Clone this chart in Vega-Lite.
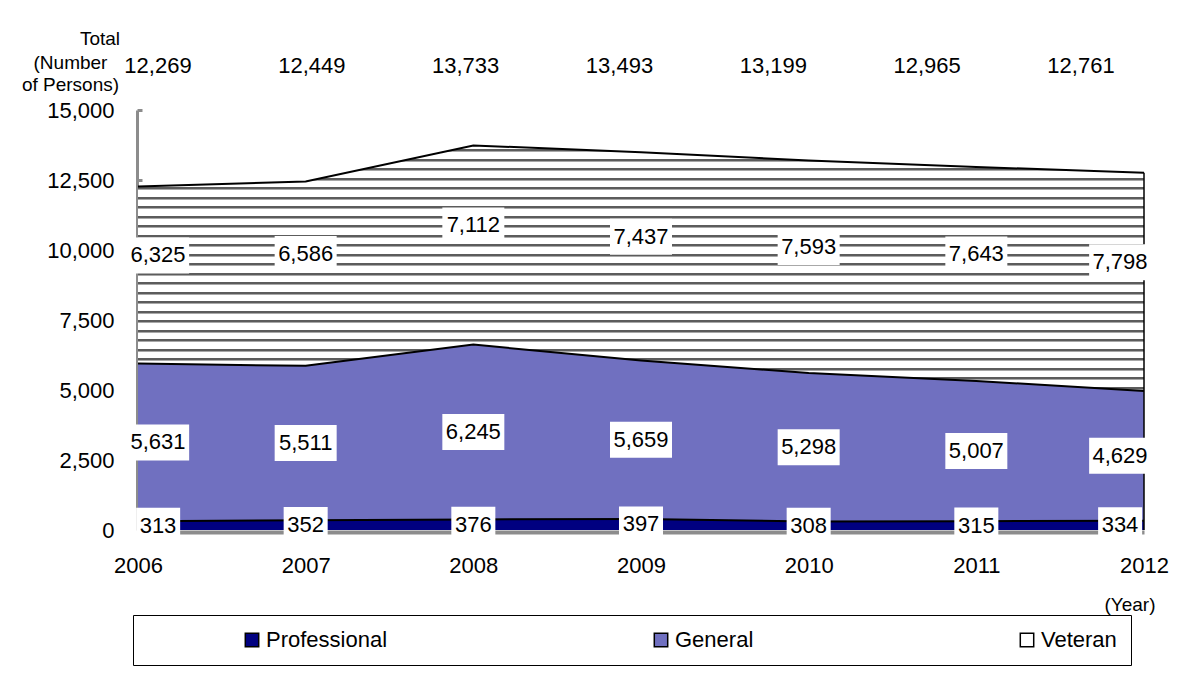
{
  "$schema": "https://vega.github.io/schema/vega-lite/v6.json",
  "width": 1006,
  "height": 420,
  "autosize": {"type": "none"},
  "padding": {"left": 138, "top": 110, "right": 35, "bottom": 150},
  "background": "white",
  "config": {"font": "Liberation Sans", "view": {"stroke": null}},
  "title": {"text": "Total", "anchor": "start", "frame": "group", "align": "center", "baseline": "middle", "dx": -38, "offset": -5, "fontSize": 19, "fontWeight": "normal", "color": "black", "font": "Liberation Sans"},
  "data": {"values": [
    {"year": 2006, "series": "Professional", "value": 313},
    {"year": 2006, "series": "General", "value": 5631},
    {"year": 2006, "series": "Veteran", "value": 6325},
    {"year": 2007, "series": "Professional", "value": 352},
    {"year": 2007, "series": "General", "value": 5511},
    {"year": 2007, "series": "Veteran", "value": 6586},
    {"year": 2008, "series": "Professional", "value": 376},
    {"year": 2008, "series": "General", "value": 6245},
    {"year": 2008, "series": "Veteran", "value": 7112},
    {"year": 2009, "series": "Professional", "value": 397},
    {"year": 2009, "series": "General", "value": 5659},
    {"year": 2009, "series": "Veteran", "value": 7437},
    {"year": 2010, "series": "Professional", "value": 308},
    {"year": 2010, "series": "General", "value": 5298},
    {"year": 2010, "series": "Veteran", "value": 7593},
    {"year": 2011, "series": "Professional", "value": 315},
    {"year": 2011, "series": "General", "value": 5007},
    {"year": 2011, "series": "Veteran", "value": 7643},
    {"year": 2012, "series": "Professional", "value": 334},
    {"year": 2012, "series": "General", "value": 4629},
    {"year": 2012, "series": "Veteran", "value": 7798}
  ]},
  "transform": [{"calculate": "indexof(['Professional','General','Veteran'], datum.series)", "as": "ord"}],
  "layer": [
    {"layer": [
      {
        "mark": {"type": "area", "opacity": 1},
        "encoding": {
          "x": {"field": "year", "type": "quantitative",
                "scale": {"domain": [2006, 2012], "nice": false, "zero": false},
                "axis": {"values": [2006, 2007, 2008, 2009, 2010, 2011, 2012], "labelExpr": "format(datum.value, 'd')", "labelFlush": false, "labelOverlap": false,
                         "title": "(Year)", "titleFontSize": 19, "titleFontWeight": "normal", "titleColor": "black", "titleAlign": "right", "titleBaseline": "middle", "titleX": 1017, "titleY": 72,
                         "labelFontSize": 22, "labelColor": "black", "labelPadding": 23, "labelBaseline": "top",
                         "ticks": false, "grid": false, "domainColor": "#8c8c8c", "domainWidth": 4, "offset": 2}},
          "y": {"field": "value", "type": "quantitative", "stack": "zero",
                "scale": {"domain": [0, 15000], "nice": false},
                "axis": {"values": [0, 2500, 5000, 7500, 10000, 12500, 15000], "labelExpr": "format(datum.value, ',')",
                         "title": ["(Number", "of Persons)"], "titleAngle": 0, "titleAlign": "center", "titleBaseline": "top", "titleX": -67, "titleY": -57,
                         "titleFontSize": 19, "titleFontWeight": "normal", "titleColor": "black", "titleLineHeight": 22,
                         "labelFontSize": 22, "labelColor": "black", "labelPadding": 28,
                         "ticks": true, "tickSize": -5, "tickWidth": 3, "tickColor": "#8c8c8c",
                         "grid": false, "domainColor": "#8c8c8c", "domainWidth": 3, "offset": 1}},
          "fill": {"field": "series", "type": "nominal",
                   "scale": {"domain": ["Professional", "General", "Veteran"], "range": ["#000080", "#7070c0", "#ffffff"]},
                   "legend": {"title": " ", "titleOrient": "left", "titlePadding": 94, "titleFontSize": 22,
                              "orient": "none", "legendX": -5, "legendY": 505, "direction": "horizontal", "columnPadding": 262,
                              "padding": 14, "strokeColor": "black", "fillColor": "white",
                              "symbolType": "square", "symbolSize": 180, "symbolStrokeColor": "black", "symbolStrokeWidth": 1.5,
                              "labelFontSize": 22, "labelColor": "black", "labelOffset": 3, "labelFont": "Liberation Sans"}},
          "order": {"field": "ord", "type": "quantitative"}
        }
      },
      {
        "transform": [
          {"stack": "value", "groupby": ["year"], "sort": [{"field": "ord", "order": "ascending"}], "as": ["v0", "v1"]},
          {"calculate": "(datum.v0 + datum.v1) / 2 + (datum.series == 'Veteran' ? 700 : 0)", "as": "ly"},
          {"calculate": "(datum.year == 2006 ? 'L' : datum.year == 2012 ? 'R' : 'C') + (datum.series == 'Professional' ? '3' : '5')", "as": "boxkey"}
        ],
        "layer": [
          {"transform": [{"filter": "datum.series == 'Veteran'"}],
           "mark": {"type": "area", "opacity": 1, "fill": {"gradient": "linear", "x1": 0, "y1": 0, "x2": 0, "y2": 1, "stops": [
             {"offset": 0, "color": "#ffffff"},
             {"offset": 0.0150, "color": "#ffffff"}, {"offset": 0.0150, "color": "#5c5c5c"}, {"offset": 0.0231, "color": "#5c5c5c"}, {"offset": 0.0231, "color": "#a8a8a8"}, {"offset": 0.0272, "color": "#a8a8a8"}, {"offset": 0.0272, "color": "#ffffff"},
             {"offset": 0.0537, "color": "#ffffff"}, {"offset": 0.0537, "color": "#5c5c5c"}, {"offset": 0.0618, "color": "#5c5c5c"}, {"offset": 0.0618, "color": "#a8a8a8"}, {"offset": 0.0659, "color": "#a8a8a8"}, {"offset": 0.0659, "color": "#ffffff"},
             {"offset": 0.0924, "color": "#ffffff"}, {"offset": 0.0924, "color": "#5c5c5c"}, {"offset": 0.1005, "color": "#5c5c5c"}, {"offset": 0.1005, "color": "#a8a8a8"}, {"offset": 0.1046, "color": "#a8a8a8"}, {"offset": 0.1046, "color": "#ffffff"},
             {"offset": 0.1311, "color": "#ffffff"}, {"offset": 0.1311, "color": "#5c5c5c"}, {"offset": 0.1392, "color": "#5c5c5c"}, {"offset": 0.1392, "color": "#a8a8a8"}, {"offset": 0.1433, "color": "#a8a8a8"}, {"offset": 0.1433, "color": "#ffffff"},
             {"offset": 0.1698, "color": "#ffffff"}, {"offset": 0.1698, "color": "#5c5c5c"}, {"offset": 0.1779, "color": "#5c5c5c"}, {"offset": 0.1779, "color": "#a8a8a8"}, {"offset": 0.1820, "color": "#a8a8a8"}, {"offset": 0.1820, "color": "#ffffff"},
             {"offset": 0.2085, "color": "#ffffff"}, {"offset": 0.2085, "color": "#5c5c5c"}, {"offset": 0.2166, "color": "#5c5c5c"}, {"offset": 0.2166, "color": "#a8a8a8"}, {"offset": 0.2207, "color": "#a8a8a8"}, {"offset": 0.2207, "color": "#ffffff"},
             {"offset": 0.2472, "color": "#ffffff"}, {"offset": 0.2472, "color": "#5c5c5c"}, {"offset": 0.2553, "color": "#5c5c5c"}, {"offset": 0.2553, "color": "#a8a8a8"}, {"offset": 0.2594, "color": "#a8a8a8"}, {"offset": 0.2594, "color": "#ffffff"},
             {"offset": 0.2859, "color": "#ffffff"}, {"offset": 0.2859, "color": "#5c5c5c"}, {"offset": 0.2940, "color": "#5c5c5c"}, {"offset": 0.2940, "color": "#a8a8a8"}, {"offset": 0.2981, "color": "#a8a8a8"}, {"offset": 0.2981, "color": "#ffffff"},
             {"offset": 0.3246, "color": "#ffffff"}, {"offset": 0.3246, "color": "#5c5c5c"}, {"offset": 0.3327, "color": "#5c5c5c"}, {"offset": 0.3327, "color": "#a8a8a8"}, {"offset": 0.3368, "color": "#a8a8a8"}, {"offset": 0.3368, "color": "#ffffff"},
             {"offset": 0.3633, "color": "#ffffff"}, {"offset": 0.3633, "color": "#5c5c5c"}, {"offset": 0.3714, "color": "#5c5c5c"}, {"offset": 0.3714, "color": "#a8a8a8"}, {"offset": 0.3755, "color": "#a8a8a8"}, {"offset": 0.3755, "color": "#ffffff"},
             {"offset": 0.4020, "color": "#ffffff"}, {"offset": 0.4020, "color": "#5c5c5c"}, {"offset": 0.4101, "color": "#5c5c5c"}, {"offset": 0.4101, "color": "#a8a8a8"}, {"offset": 0.4142, "color": "#a8a8a8"}, {"offset": 0.4142, "color": "#ffffff"},
             {"offset": 0.4407, "color": "#ffffff"}, {"offset": 0.4407, "color": "#5c5c5c"}, {"offset": 0.4488, "color": "#5c5c5c"}, {"offset": 0.4488, "color": "#a8a8a8"}, {"offset": 0.4529, "color": "#a8a8a8"}, {"offset": 0.4529, "color": "#ffffff"},
             {"offset": 0.4794, "color": "#ffffff"}, {"offset": 0.4794, "color": "#5c5c5c"}, {"offset": 0.4875, "color": "#5c5c5c"}, {"offset": 0.4875, "color": "#a8a8a8"}, {"offset": 0.4916, "color": "#a8a8a8"}, {"offset": 0.4916, "color": "#ffffff"},
             {"offset": 0.5181, "color": "#ffffff"}, {"offset": 0.5181, "color": "#5c5c5c"}, {"offset": 0.5262, "color": "#5c5c5c"}, {"offset": 0.5262, "color": "#a8a8a8"}, {"offset": 0.5303, "color": "#a8a8a8"}, {"offset": 0.5303, "color": "#ffffff"},
             {"offset": 0.5568, "color": "#ffffff"}, {"offset": 0.5568, "color": "#5c5c5c"}, {"offset": 0.5649, "color": "#5c5c5c"}, {"offset": 0.5649, "color": "#a8a8a8"}, {"offset": 0.5690, "color": "#a8a8a8"}, {"offset": 0.5690, "color": "#ffffff"},
             {"offset": 0.5955, "color": "#ffffff"}, {"offset": 0.5955, "color": "#5c5c5c"}, {"offset": 0.6036, "color": "#5c5c5c"}, {"offset": 0.6036, "color": "#a8a8a8"}, {"offset": 0.6077, "color": "#a8a8a8"}, {"offset": 0.6077, "color": "#ffffff"},
             {"offset": 0.6342, "color": "#ffffff"}, {"offset": 0.6342, "color": "#5c5c5c"}, {"offset": 0.6423, "color": "#5c5c5c"}, {"offset": 0.6423, "color": "#a8a8a8"}, {"offset": 0.6464, "color": "#a8a8a8"}, {"offset": 0.6464, "color": "#ffffff"},
             {"offset": 0.6729, "color": "#ffffff"}, {"offset": 0.6729, "color": "#5c5c5c"}, {"offset": 0.6810, "color": "#5c5c5c"}, {"offset": 0.6810, "color": "#a8a8a8"}, {"offset": 0.6851, "color": "#a8a8a8"}, {"offset": 0.6851, "color": "#ffffff"},
             {"offset": 0.7116, "color": "#ffffff"}, {"offset": 0.7116, "color": "#5c5c5c"}, {"offset": 0.7197, "color": "#5c5c5c"}, {"offset": 0.7197, "color": "#a8a8a8"}, {"offset": 0.7238, "color": "#a8a8a8"}, {"offset": 0.7238, "color": "#ffffff"},
             {"offset": 0.7503, "color": "#ffffff"}, {"offset": 0.7503, "color": "#5c5c5c"}, {"offset": 0.7584, "color": "#5c5c5c"}, {"offset": 0.7584, "color": "#a8a8a8"}, {"offset": 0.7625, "color": "#a8a8a8"}, {"offset": 0.7625, "color": "#ffffff"},
             {"offset": 0.7890, "color": "#ffffff"}, {"offset": 0.7890, "color": "#5c5c5c"}, {"offset": 0.7971, "color": "#5c5c5c"}, {"offset": 0.7971, "color": "#a8a8a8"}, {"offset": 0.8012, "color": "#a8a8a8"}, {"offset": 0.8012, "color": "#ffffff"},
             {"offset": 0.8277, "color": "#ffffff"}, {"offset": 0.8277, "color": "#5c5c5c"}, {"offset": 0.8358, "color": "#5c5c5c"}, {"offset": 0.8358, "color": "#a8a8a8"}, {"offset": 0.8399, "color": "#a8a8a8"}, {"offset": 0.8399, "color": "#ffffff"},
             {"offset": 0.8664, "color": "#ffffff"}, {"offset": 0.8664, "color": "#5c5c5c"}, {"offset": 0.8745, "color": "#5c5c5c"}, {"offset": 0.8745, "color": "#a8a8a8"}, {"offset": 0.8786, "color": "#a8a8a8"}, {"offset": 0.8786, "color": "#ffffff"},
             {"offset": 0.9051, "color": "#ffffff"}, {"offset": 0.9051, "color": "#5c5c5c"}, {"offset": 0.9132, "color": "#5c5c5c"}, {"offset": 0.9132, "color": "#a8a8a8"}, {"offset": 0.9173, "color": "#a8a8a8"}, {"offset": 0.9173, "color": "#ffffff"},
             {"offset": 0.9438, "color": "#ffffff"}, {"offset": 0.9438, "color": "#5c5c5c"}, {"offset": 0.9519, "color": "#5c5c5c"}, {"offset": 0.9519, "color": "#a8a8a8"}, {"offset": 0.9560, "color": "#a8a8a8"}, {"offset": 0.9560, "color": "#ffffff"},
             {"offset": 0.9825, "color": "#ffffff"}, {"offset": 0.9825, "color": "#5c5c5c"}, {"offset": 0.9906, "color": "#5c5c5c"}, {"offset": 0.9906, "color": "#a8a8a8"}, {"offset": 0.9947, "color": "#a8a8a8"}, {"offset": 0.9947, "color": "#ffffff"},
             {"offset": 1, "color": "#ffffff"}
           ]}},
           "encoding": {
             "x": {"field": "year", "type": "quantitative"},
             "y": {"field": "v1", "type": "quantitative"},
             "y2": {"field": "v0"}
           }},
          {"mark": {"type": "line", "color": "black", "strokeWidth": 2},
           "encoding": {
             "x": {"field": "year", "type": "quantitative"},
             "y": {"field": "v1", "type": "quantitative"},
             "detail": {"field": "series", "type": "nominal"}
           }},
          {"transform": [{"filter": "datum.year == 2012 && datum.series == 'Veteran'"}],
           "mark": {"type": "rule", "color": "black", "strokeWidth": 1.5},
           "encoding": {
             "x": {"field": "year", "type": "quantitative"},
             "y": {"field": "v1", "type": "quantitative"},
             "y2": {"datum": 0}
           }},
          {"mark": {"type": "point", "filled": true, "fill": "white", "strokeWidth": 0, "size": 3844, "opacity": 1},
           "encoding": {
             "x": {"field": "year", "type": "quantitative"},
             "y": {"field": "ly", "type": "quantitative"},
             "shape": {"field": "boxkey", "type": "nominal",
                       "scale": {"domain": ["C5", "L5", "R5", "C3", "L3", "R3"],
                                 "range": ["M-1,-0.58H1V0.58H-1Z", "M-0.35,-0.58H1.65V0.58H-0.35Z", "M-1.77,-0.58H0.23V0.58H-1.77Z",
                                           "M-0.71,-0.58H0.71V0.58H-0.71Z", "M-0.06,-0.58H1.36V0.58H-0.06Z", "M-1.48,-0.58H-0.06V0.58H-1.48Z"]},
                       "legend": null}
           }},
          {"transform": [{"filter": "datum.year == 2006"}],
           "mark": {"type": "text", "fontSize": 22, "dx": 20, "baseline": "middle", "align": "center", "color": "black", "font": "Liberation Sans"},
           "encoding": {"x": {"field": "year", "type": "quantitative"}, "y": {"field": "ly", "type": "quantitative"}, "text": {"field": "value", "type": "quantitative", "format": ","}}},
          {"transform": [{"filter": "datum.year > 2006 && datum.year < 2012"}],
           "mark": {"type": "text", "fontSize": 22, "baseline": "middle", "align": "center", "color": "black", "font": "Liberation Sans"},
           "encoding": {"x": {"field": "year", "type": "quantitative"}, "y": {"field": "ly", "type": "quantitative"}, "text": {"field": "value", "type": "quantitative", "format": ","}}},
          {"transform": [{"filter": "datum.year == 2012"}],
           "mark": {"type": "text", "fontSize": 22, "dx": -24, "baseline": "middle", "align": "center", "color": "black", "font": "Liberation Sans"},
           "encoding": {"x": {"field": "year", "type": "quantitative"}, "y": {"field": "ly", "type": "quantitative"}, "text": {"field": "value", "type": "quantitative", "format": ","}}}
        ]
      }
    ]},
    {
      "transform": [{"aggregate": [{"op": "sum", "field": "value", "as": "total"}], "groupby": ["year"]}],
      "mark": {"type": "text", "fontSize": 22, "baseline": "middle", "align": "center", "dy": -44, "color": "black", "font": "Liberation Sans"},
      "encoding": {
        "x": {"field": "year", "type": "quantitative", "scale": {"domain": [2006, 2012], "range": [20, 943]}, "axis": null},
        "y": {"value": 0},
        "text": {"field": "total", "type": "quantitative", "format": ","}
      }
    }
  ],
  "resolve": {"scale": {"x": "independent"}}
}
